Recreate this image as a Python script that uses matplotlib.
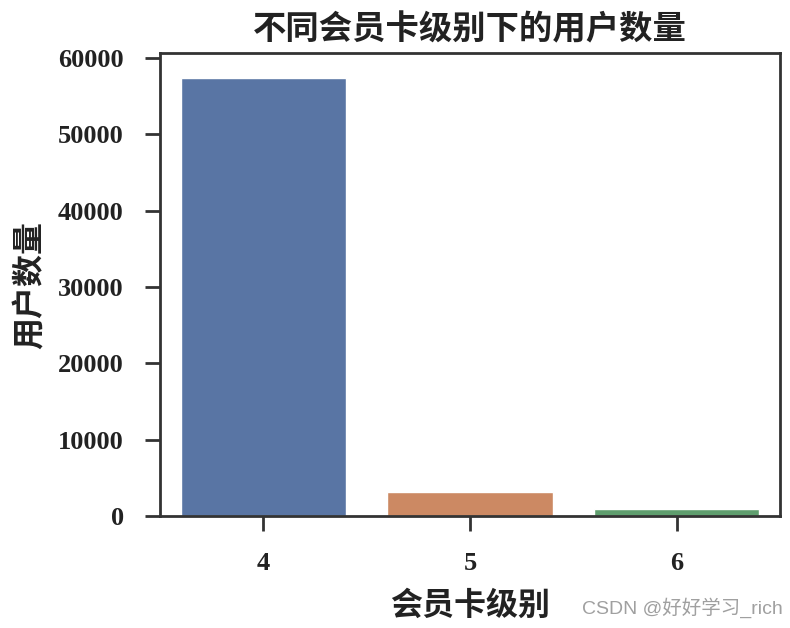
import matplotlib
matplotlib.use('Agg')
import matplotlib.pyplot as plt
import seaborn as sns
import pandas as pd

# card level -> number of users
levels = ['4', '5', '6']
user_counts = [57400, 3150, 920]

sns.set_theme(style='ticks', palette='deep')
plt.rcParams['font.family'] = ['Liberation Serif', 'Noto Sans CJK SC']
plt.rcParams['font.weight'] = 'bold'
plt.rcParams['axes.unicode_minus'] = False

df = pd.DataFrame({'level': levels, 'count': user_counts})

fig = plt.figure(figsize=(7.9, 6.28), dpi=100)
ax = fig.add_axes([0.2025, 0.1783, 0.7848, 0.7373])
sns.barplot(data=df, x='level', y='count', hue='level', palette='deep',
            legend=False, ax=ax)
ax.set_ylim(0, 60650)
ax.set_yticks([0, 10000, 20000, 30000, 40000, 50000, 60000])

for s in ax.spines.values():
    s.set_linewidth(2)
    s.set_color('#333333')
ax.tick_params(axis='both', length=11, width=2, labelsize=19, color='#333333',
               labelcolor='#222222', pad=15)
for lab in ax.get_xticklabels() + ax.get_yticklabels():
    lab.set_fontweight('bold')

ax.set_title('不同会员卡级别下的用户数量', fontsize=24, fontweight='bold',
             pad=10, color='#222222')
ax.set_xlabel('会员卡级别', fontsize=23, fontweight='bold', labelpad=12,
              color='#222222')
ax.set_ylabel('用户数量', fontsize=23, fontweight='bold', labelpad=8,
              color='#222222')

fig.text(0.991, 0.032, 'CSDN @好好学习_rich', ha='right', va='center',
         fontsize=14, color='#a0a0a0', fontweight='normal',
         family=['Liberation Sans', 'Noto Sans CJK SC'])

fig.savefig('out.png', dpi=100)
